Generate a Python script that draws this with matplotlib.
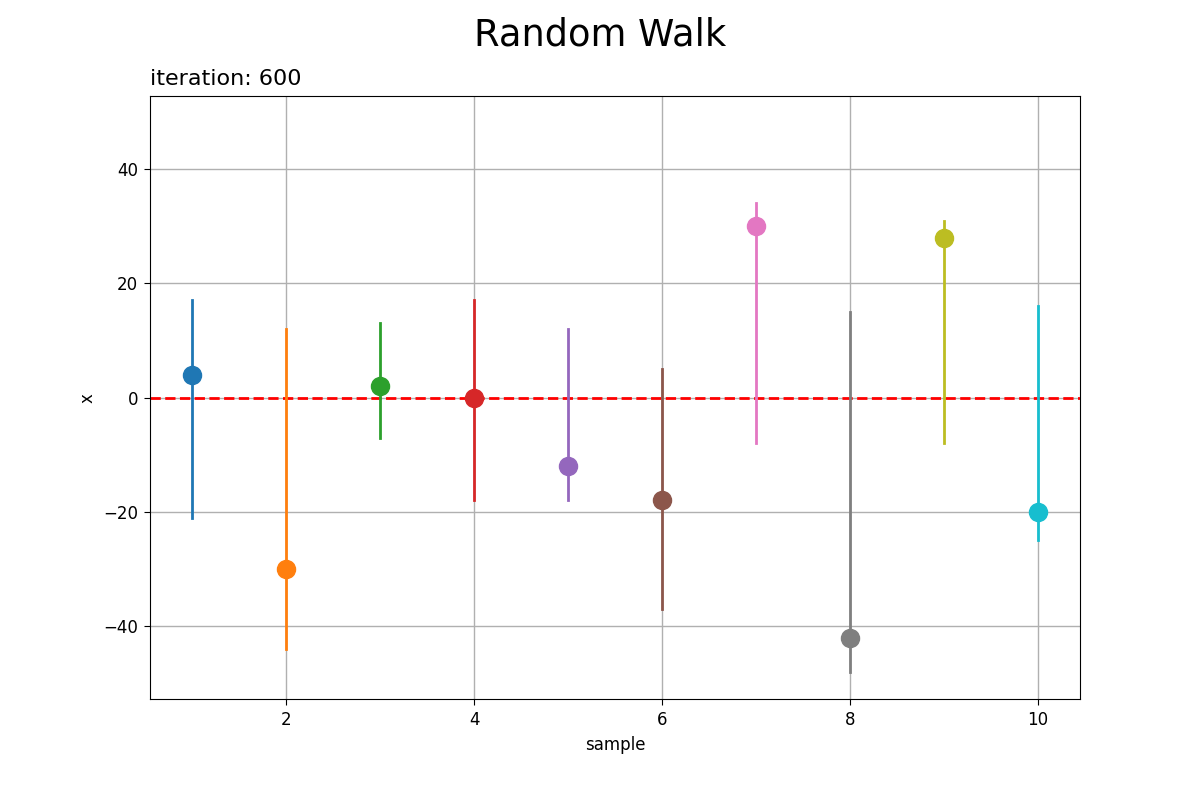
import matplotlib
matplotlib.use("Agg")
import matplotlib.pyplot as plt

samples = [1, 2, 3, 4, 5, 6, 7, 8, 9, 10]
current = [4, -30, 2, 0, -12, -18, 30, -42, 28, -20]
upper = [17, 12, 13, 17, 12, 5, 34, 15, 31, 16]
lower = [-21, -44, -7, -18, -18, -37, -8, -48, -8, -25]
colors = plt.rcParams['axes.prop_cycle'].by_key()['color']

plt.rcParams['xtick.labelsize'] = 12
plt.rcParams['ytick.labelsize'] = 12
plt.rcParams['axes.labelsize'] = 12
plt.rcParams['grid.linewidth'] = 1.0
plt.rcParams['xtick.major.size'] = 4.2
plt.rcParams['ytick.major.size'] = 4.2
plt.rcParams['xtick.major.pad'] = 4.2
plt.rcParams['ytick.major.pad'] = 4.2

fig, ax = plt.subplots(figsize=(12, 8), dpi=100)
fig.subplots_adjust(left=0.125, right=0.9, top=0.88, bottom=0.126)

ax.axhline(0, color='red', linestyle='--', linewidth=2, zorder=1.5)
for i, s in enumerate(samples):
    c = colors[i % len(colors)]
    ax.plot([s, s], [lower[i], upper[i]], color=c, linewidth=2, zorder=2)
    ax.plot(s, current[i], 'o', color=c, markersize=13, zorder=3)

ax.set_ylim(-52.8, 52.8)
ax.set_xlim(0.55, 10.45)
ax.grid(True)
ax.set_axisbelow(True)
ax.set_xlabel('sample', labelpad=5)
ax.set_ylabel('x', labelpad=5)
ax.set_title('iteration: 600', loc='left', fontsize=16, pad=8)
fig.suptitle('Random Walk', fontsize=26.5)
fig.savefig('out.png')
